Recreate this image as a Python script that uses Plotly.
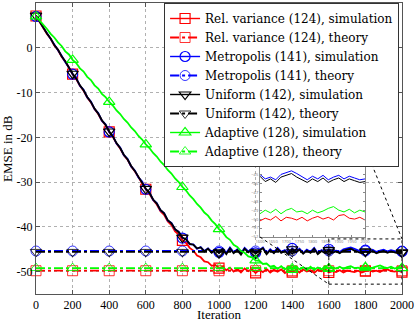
import plotly.graph_objects as go

#--- iteration axis (every 20 iterations) and marker positions (every 200)
iters = list(range(0, 2001, 20))
marker_iters = list(range(0, 2001, 200))

#--- simulated EMSE curves in dB
relvar_sim = [
  7.1, 5.7, 4.6, 3.1, 2.0, 0.5, -0.5, -2.0, -3.1, -4.6,
  -5.9, -7.0, -8.5, -9.6, -11.1, -12.2, -13.7, -14.8, -16.3, -17.3,
  -18.8, -19.9, -21.4, -22.5, -24.0, -25.0, -26.5, -27.6, -29.0, -30.1,
  -31.6, -32.6, -34.0, -35.0, -36.5, -37.3, -38.8, -39.6, -41.0, -41.7,
  -43.0, -43.6, -44.7, -45.3, -46.4, -46.8, -47.7, -47.9, -48.7, -48.5,
  -49.2,
  -48.9, -49.7, -49.1, -50.0, -49.4, -50.2, -49.3, -49.9, -49.5, -50.3,
  -49.6, -50.1, -49.4, -50.2, -49.6, -50.0, -49.5, -50.3, -49.7, -50.1,
  -49.6, -50.2, -49.5, -50.0, -49.7, -50.3, -49.6, -49.9, -49.5, -50.2,
  -49.9, -50.1, -49.7, -50.2, -49.8, -49.9, -50.1, -49.8, -50.2, -49.9,
  -49.7, -50.0, -49.8, -50.1, -49.6, -49.5, -49.9, -50.0, -49.8, -50.1,
]
metro_sim = [
  7.0, 5.9, 4.5, 3.3, 1.9, 0.7, -0.6, -1.8, -3.2, -4.4,
  -5.9, -6.8, -8.5, -9.4, -11.1, -12.0, -13.7, -14.6, -16.3, -17.1,
  -18.8, -19.7, -21.4, -22.3, -24.0, -24.8, -26.5, -27.4, -29.0, -29.9,
  -31.6, -32.3, -34.0, -34.7, -36.3, -36.9, -38.6, -39.1, -40.6, -41.1,
  -42.5, -42.7, -43.9, -43.9, -44.9, -44.5, -45.4, -44.8, -45.6, -45.0,
  -45.7,
  -44.8, -45.8, -44.6, -45.7, -45.0, -45.9, -44.7, -45.5, -44.9, -45.8,
  -45.1, -44.6, -45.9, -45.0, -45.7, -44.7, -45.6, -45.2, -46.0, -44.8,
  -45.5, -44.9, -45.8, -45.1, -45.6, -44.7, -45.9, -45.2, -45.7, -45.0,
  -45.5, -45.3, -45.6, -45.0, -44.8, -44.6, -44.9, -45.3, -45.6, -45.2,
  -45.5, -45.1, -45.6, -45.3, -45.1, -45.5, -45.2, -45.4, -45.6, -45.5,
]
uniform_sim = [
  7.2, 5.8, 4.7, 3.2, 2.1, 0.6, -0.4, -1.9, -3.0, -4.5,
  -5.8, -6.9, -8.4, -9.5, -11.0, -12.1, -13.6, -14.7, -16.2, -17.2,
  -18.7, -19.8, -21.3, -22.4, -23.9, -24.9, -26.4, -27.5, -28.9, -30.0,
  -31.5, -32.4, -33.9, -34.8, -36.2, -37.0, -38.5, -39.2, -40.5, -41.2,
  -42.4, -42.8, -43.8, -44.0, -44.8, -44.6, -45.5, -44.9, -45.8, -45.1,
  -45.9,
  -45.0, -46.1, -44.8, -45.9, -45.2, -46.2, -44.9, -45.7, -45.1, -46.0,
  -45.3, -44.8, -46.1, -45.2, -45.9, -44.9, -45.8, -45.4, -46.2, -45.0,
  -45.7, -45.1, -46.0, -45.3, -45.8, -44.9, -46.1, -45.4, -45.9, -45.2,
  -45.8, -45.5, -45.9, -45.3, -45.1, -44.9, -45.3, -45.6, -45.9, -45.5,
  -45.8, -45.4, -45.9, -45.6, -45.4, -45.8, -45.5, -45.7, -45.9, -45.8,
]
adaptive_sim = [
  7.0, 6.1, 5.0, 4.2, 3.1, 2.3, 1.2, 0.4, -0.8, -1.5,
  -2.7, -3.4, -4.6, -5.3, -6.5, -7.2, -8.4, -9.1, -10.3, -11.0,
  -12.1, -12.9, -14.0, -14.8, -15.9, -16.7, -17.8, -18.6, -19.7, -20.5,
  -21.6, -22.4, -23.5, -24.3, -25.4, -26.2, -27.3, -28.1, -29.2, -30.0,
  -31.1, -31.9, -33.0, -33.8, -34.9, -35.7, -36.8, -37.5, -38.6, -39.4,
  -40.5,
  -41.2, -42.3, -42.9, -44.0, -44.5, -45.4, -45.8, -46.6, -46.8, -47.5,
  -47.6, -48.3, -48.2, -48.9, -48.7, -49.4, -48.8, -49.5, -48.9, -49.6,
  -48.8, -49.5, -49.0, -49.7, -48.9, -49.6, -49.1, -49.5, -48.8, -49.4,
  -49.0, -49.3, -48.9, -49.4, -49.0, -48.8, -49.2, -49.1, -49.4, -49.0,
  -49.3, -49.1, -48.8, -48.6, -49.0, -49.2, -48.9, -49.3, -49.0, -49.2,
]

#--- theoretical steady-state EMSE in dB
relvar_theory = -49.8
metro_theory = -45.4
uniform_theory = -45.6
adaptive_theory = -49.2

#--- axis ticks
xticks = list(range(0, 2001, 200))
yticks = [-50, -40, -30, -20, -10, 0, 10]
yticklabels = ['-50', '-40', '-30', '-20', '-10', '0', '10']
inset_xticks = list(range(1600, 2001, 50))
inset_yticks = list(range(-52, -41))

series = [
  ('Rel. variance (124)', '#ff0000', 'square-open', relvar_sim, relvar_theory),
  ('Metropolis (141)', '#0000ff', 'circle-open', metro_sim, metro_theory),
  ('Uniform (142)', '#000000', 'triangle-down-open', uniform_sim, uniform_theory),
  ('Adaptive (128)', '#00ff00', 'triangle-up-open', adaptive_sim, adaptive_theory),
]

XR = [0, 2000]
YR = [-55, 10]
INSET_X = [0.612, 0.899]
INSET_Y = [0.196, 0.503]
INSET_XR = [1600, 2000]
INSET_YR = [-52, -42]
ZOOM_Y = [-52.8, -42.7]
FONT = 'Liberation Serif'

fig = go.Figure()

for name, color, symbol, sim, theo in series:
  mk = dict(symbol=symbol, size=10, color=color, line=dict(color=color, width=1.2))
  fig.add_trace(go.Scatter(x=iters, y=sim, mode='lines', line=dict(color=color, width=1.8),
                           showlegend=False, hoverinfo='skip'))
  fig.add_trace(go.Scatter(x=iters[::10], y=sim[::10], mode='markers', marker=mk,
                           showlegend=False, cliponaxis=False, hoverinfo='skip'))
  fig.add_trace(go.Scatter(x=[None], y=[None], mode='lines+markers', marker=mk,
                           line=dict(color=color, width=1.4), name=name + ', simulation'))
  fig.add_trace(go.Scatter(x=marker_iters, y=[theo]*len(marker_iters), mode='lines+markers',
                           line=dict(color=color, width=1.8, dash='dashdot'),
                           marker=dict(symbol=symbol, size=10, color=color, line=dict(color=color, width=0.8)),
                           name=name + ', theory', cliponaxis=False))

#--- inset: white backdrop over the main grid, then the zoomed simulation curves
fig.add_trace(go.Scatter(x=[INSET_XR[0], INSET_XR[1], INSET_XR[1], INSET_XR[0]],
                         y=[INSET_YR[0], INSET_YR[0], INSET_YR[1], INSET_YR[1]],
                         fill='toself', fillcolor='white', mode='none', xaxis='x2', yaxis='y2',
                         showlegend=False, hoverinfo='skip'))
i0 = iters.index(INSET_XR[0])
for name, color, symbol, sim, theo in [series[0], series[3], series[1], series[2]]:
  fig.add_trace(go.Scatter(x=iters[i0:], y=sim[i0:], mode='lines', line=dict(color=color, width=1),
                           xaxis='x2', yaxis='y2', showlegend=False, hoverinfo='skip'))

axis_common = dict(ticks='inside', ticklen=4, tickcolor='#555', showline=True, linecolor='#555',
                   linewidth=1, mirror='ticks', zeroline=False, automargin=False,
                   tickfont=dict(family=FONT, size=12, color='black'))
inset_common = dict(ticks='inside', ticklen=2, tickcolor='#888', showline=True, linecolor='#888',
                    mirror='ticks', showgrid=False, zeroline=False, automargin=False,
                    tickfont=dict(size=4, color='#777'))

fig.update_layout(
  width=415, height=320,
  margin=dict(l=36, r=13, t=3, b=26),
  paper_bgcolor='white', plot_bgcolor='white',
  showlegend=True,
  legend=dict(x=0.992, xanchor='right', y=1.0, yanchor='top', bgcolor='white',
              bordercolor='#333', borderwidth=1, font=dict(family='DejaVu Serif', size=12, color='black'),
              traceorder='normal'),
  xaxis=dict(range=XR, tickvals=xticks, showgrid=True, gridcolor='#b0b0b0', griddash='dot', **axis_common),
  yaxis=dict(range=YR, tickvals=yticks, ticktext=yticklabels, showgrid=True, gridcolor='#b0b0b0',
             griddash='dot', **axis_common),
  xaxis2=dict(domain=INSET_X, anchor='y2', range=INSET_XR, tickvals=inset_xticks, **inset_common),
  yaxis2=dict(domain=INSET_Y, anchor='x2', range=INSET_YR, tickvals=inset_yticks, **inset_common),
  annotations=[
    dict(text='Iteration', x=0.5, y=-0.072, xref='paper', yref='paper', showarrow=False,
         font=dict(family=FONT, size=13, color='black'), yanchor='middle'),
    dict(text='EMSE in dB', x=-0.078, y=0.5, xref='paper', yref='paper', showarrow=False, textangle=-90,
         font=dict(family=FONT, size=13, color='black'), xanchor='center'),
  ],
)

#--- zoom rectangle and connector lines
def px(v):
  return (v - XR[0])/(XR[1] - XR[0])

def py(v):
  return (v - YR[0])/(YR[1] - YR[0])

fig.add_shape(type='rect', xref='x', yref='y', x0=INSET_XR[0], x1=INSET_XR[1], y0=ZOOM_Y[0], y1=ZOOM_Y[1],
              line=dict(color='black', width=1, dash='dot'))
fig.add_shape(type='line', xref='paper', yref='paper', x0=INSET_X[1], y0=INSET_Y[1],
              x1=px(INSET_XR[1]), y1=py(ZOOM_Y[1]), line=dict(color='black', width=1, dash='dot'))
fig.add_shape(type='line', xref='paper', yref='paper', x0=INSET_X[0], y0=INSET_Y[0],
              x1=px(INSET_XR[0]), y1=py(ZOOM_Y[0]), line=dict(color='black', width=1, dash='dot'))

fig.write_html('out.html', config={'displayModeBar': False},
               post_script="document.body.style.margin='0';")
